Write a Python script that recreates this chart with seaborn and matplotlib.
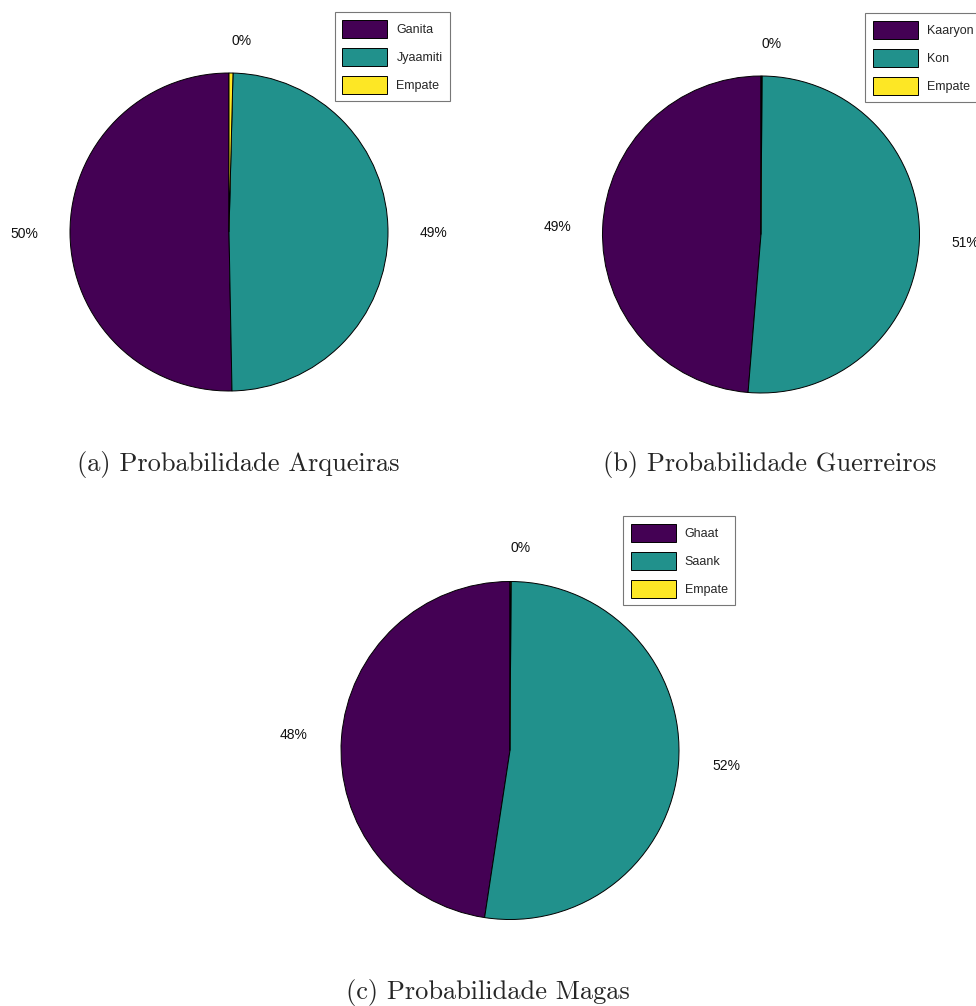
import matplotlib
matplotlib.use("Agg")
import matplotlib.pyplot as plt
import seaborn as sns
import numpy as np

sns.set_style("white")
plt.rcParams['font.family'] = ['Liberation Sans', 'DejaVu Sans']

# Data
names_a = ["Ganita", "Jyaamiti", "Empate"]
vals_a = [50.3, 49.3, 0.4]
names_b = ["Kaaryon", "Kon", "Empate"]
vals_b = [48.7, 51.2, 0.1]
names_c = ["Ghaat", "Saank", "Empate"]
vals_c = [47.6, 52.3, 0.1]
captions = ["(a) Probabilidade Arqueiras", "(b) Probabilidade Guerreiros", "(c) Probabilidade Magas"]

cmap = matplotlib.colormaps["viridis"]
colors = [cmap(0.0), cmap(0.5), cmap(1.0)]

W, H = 976, 1006
fig = plt.figure(figsize=(W / 100, H / 100), dpi=100)


def add_pie(cx, cy, R, names, vals, leg_loc, leg_xy):
    ax = fig.add_axes([(cx - R) / W, (H - (cy + R)) / H, 2 * R / W, 2 * R / H])
    labels = [f"{round(v):d}%" for v in vals]
    wedges, texts = ax.pie(vals, colors=colors, labels=labels, startangle=90,
                           counterclock=True, labeldistance=1.2,
                           wedgeprops=dict(edgecolor="black", linewidth=0.7),
                           textprops=dict(fontsize=10, color="#111111"))
    for w in wedges:
        w.set_clip_on(False)
    ax.set_xlim(-1, 1)
    ax.set_ylim(-1, 1)
    ax.set_aspect("equal", adjustable="box")
    ax.axis("off")
    leg = fig.legend(wedges, names, loc=leg_loc,
                     bbox_to_anchor=(leg_xy[0] / W, 1 - leg_xy[1] / H),
                     borderaxespad=0, fontsize=9, handlelength=3.6,
                     handleheight=1.84, handletextpad=0.72, labelspacing=0.8,
                     borderpad=0.6, fancybox=False, shadow=False, framealpha=1)
    leg.get_frame().set_edgecolor("#777777")
    leg.get_frame().set_linewidth(0.8)
    return ax


add_pie(229, 232, 159, names_a, vals_a, "upper right", (450, 12))
add_pie(761, 234.5, 158.5, names_b, vals_b, "upper left", (865, 13))
add_pie(510, 750.5, 169, names_c, vals_c, "upper left", (623, 516))

cap_pos = [(238, 464), (770, 464), (488, 993)]
for (x, y), t in zip(cap_pos, captions):
    fig.text(x / W, 1 - y / H, t, ha="center", va="center", fontsize=19,
             family=["cmr10", "DejaVu Serif"])

fig.savefig("out.png", dpi=100, facecolor="white")
